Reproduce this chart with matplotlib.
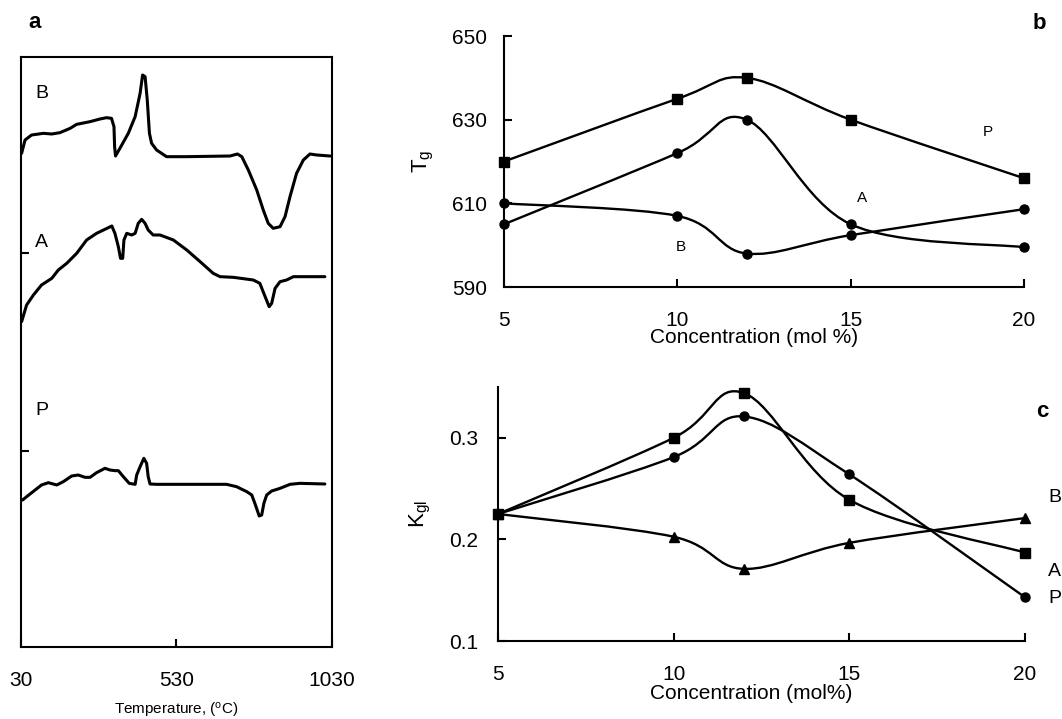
import matplotlib
matplotlib.use("Agg")
import matplotlib.pyplot as plt
from matplotlib.path import Path
from matplotlib.patches import PathPatch
import numpy as np

plt.rcParams['font.family'] = ['Liberation Sans', 'DejaVu Sans']
plt.rcParams['mathtext.default'] = 'regular'

# ---------------- Panel a: DTA traces (temperature in C, signal in a.u.) -------------
temp_B = [32, 43, 64, 102, 129, 155, 188, 209, 252, 284, 305, 321, 329, 331, 334, 348,
          375, 397, 413, 421, 429, 436, 443, 450, 466, 498, 563, 702, 726, 740, 761,
          788, 809, 825, 841, 863, 879, 895, 916, 938, 959, 981, 1024]
sig_B = [148.1, 152.1, 153.6, 154.1, 153.9, 154.3, 155.6, 156.8, 157.6, 158.4, 158.8,
         158.6, 156.1, 150.1, 147.3, 149.6, 154.1, 159.1, 166.1, 171.6, 171.1, 164.1,
         154.1, 151.1, 149.1, 147.1, 147.1, 147.3, 147.9, 147.1, 143.1, 137.1, 131.1,
         127.1, 125.6, 126.1, 129.1, 135.1, 142.1, 146.1, 147.9, 147.6, 147.3]

temp_A = [32, 48, 70, 96, 129, 150, 177, 209, 241, 273, 311, 322, 332, 343, 350, 357,
          361, 370, 386, 397, 407, 418, 429, 439, 455, 477, 520, 563, 606, 648, 670,
          713, 777, 798, 815, 828, 836, 847, 863, 884, 906, 949, 1007]
sig_A = [97.6, 102.6, 105.6, 108.6, 110.6, 113.1, 115.1, 118.1, 122.1, 124.1, 125.8,
         126.3, 124.1, 120.1, 116.6, 116.6, 122.1, 124.1, 123.6, 124.1, 127.1, 128.3,
         127.1, 125.1, 123.6, 123.6, 122.1, 119.1, 115.6, 112.1, 111.1, 110.9, 110.1,
         109.1, 105.1, 102.1, 103.1, 107.6, 109.6, 110.1, 111.1, 111.1, 111.1]

temp_P = [35, 59, 96, 118, 145, 166, 193, 214, 236, 252, 273, 300, 316, 332, 343, 359,
          378, 397, 402, 413, 425, 434, 439, 445, 466, 606, 691, 723, 756, 772, 782,
          796, 804, 811, 820, 836, 863, 895, 927, 1007]
sig_P = [44.1, 45.9, 48.6, 49.3, 48.6, 49.6, 51.3, 51.6, 50.9, 50.9, 52.3, 53.6, 53.1,
         52.9, 52.9, 51.1, 49.1, 48.8, 51.6, 54.1, 56.6, 55.1, 51.1, 48.9, 48.8, 48.8,
         48.8, 48.1, 46.6, 45.6, 43.1, 39.3, 39.6, 43.1, 45.6, 46.8, 47.6, 48.8, 49.1,
         48.9]

temp_ticks = [30, 530, 1030]
a_labels = ['B', 'A', 'P']
a_label_sig = [166.2, 121.5, 71.1]

# ---------------- Panel b: Tg vs concentration ----------------
conc = [5, 10, 12, 15, 20]
tg_P = [620, 635, 640, 630, 616]
tg_A = [605, 622, 630, 605, 599.5]
tg_B = [610, 607, 598, 602.4, 608.6]
tg_ticks = [590, 610, 630, 650]

# ---------------- Panel c: Kgl vs concentration ----------------
kgl_A = [0.225, 0.300, 0.344, 0.239, 0.187]   # squares
kgl_P = [0.225, 0.281, 0.321, 0.264, 0.143]   # circles
kgl_B = [0.225, 0.2026, 0.171, 0.1966, 0.221]  # triangles
kgl_ticks = [0.1, 0.2, 0.3]
conc_ticks = [5, 10, 15, 20]


def smooth_path(ax, x, y, lw):
    """Excel-style smoothed line through the data points (cubic Bezier segments)."""
    x = np.asarray(x, float)
    y = np.asarray(y, float)
    pts = np.column_stack([x, y])
    n = len(pts)
    verts = [pts[0]]
    codes = [Path.MOVETO]
    for i in range(n - 1):
        p0 = pts[i - 1] if i > 0 else pts[i]
        p1 = pts[i]
        p2 = pts[i + 1]
        p3 = pts[i + 2] if i + 2 < n else pts[i + 1]
        c1 = p1 + (p2 - p0) / 6.0
        c2 = p2 - (p3 - p1) / 6.0
        verts += [c1, c2, p2]
        codes += [Path.CURVE4] * 3
    patch = PathPatch(Path(verts, codes), facecolor='none', edgecolor='black',
                      lw=lw, transform=ax.transData, capstyle='round', joinstyle='round')
    ax.add_patch(patch)


fig = plt.figure(figsize=(10.62, 7.19), dpi=100)

# ---- Panel a ----
ax_a = fig.add_axes([0.01977, 0.10014, 0.29284, 0.82058])
for t, s in [(temp_B, sig_B), (temp_A, sig_A), (temp_P, sig_P)]:
    ax_a.plot(t, s, color='black', lw=2.2, solid_joinstyle='round', solid_capstyle='round')
ax_a.set_xlim(30, 1030)
ax_a.set_ylim(0, 177)
ax_a.set_xticks(temp_ticks)
ax_a.set_xticklabels([str(v) for v in temp_ticks], fontsize=15)
ax_a.set_yticks([58.8, 118.2])
ax_a.set_yticklabels([])
ax_a.tick_params(direction='in', length=6, width=1.5)
ax_a.tick_params(axis='x', pad=17)
for lab, s in zip(a_labels, a_label_sig):
    ax_a.text(97, s, lab, fontsize=14, ha='center', va='center')
for sp in ax_a.spines.values():
    sp.set_linewidth(1.5)
ax_a.set_xlabel(r'Temperature, ($^{o}$C)', fontsize=11, labelpad=8)

# ---- Panel b ----
ax_b = fig.add_axes([0.47458, 0.60083, 0.48964, 0.34910])
smooth_path(ax_b, conc, tg_P, 1.7)
smooth_path(ax_b, conc, tg_A, 1.7)
smooth_path(ax_b, conc, tg_B, 1.7)
ax_b.plot(conc, tg_P, ls='none', marker='s', ms=6.5, color='black', clip_on=False)
ax_b.plot(conc, tg_A, ls='none', marker='o', ms=6.5, color='black', clip_on=False)
ax_b.plot(conc, tg_B, ls='none', marker='o', ms=6.5, color='black', clip_on=False)
ax_b.set_xlim(5, 20)
ax_b.set_ylim(590, 650)
ax_b.set_xticks(conc_ticks)
ax_b.set_yticks(tg_ticks)
ax_b.tick_params(direction='in', length=6, width=1.5, labelsize=15)
ax_b.tick_params(axis='x', pad=17)
ax_b.tick_params(axis='y', pad=12)
ax_b.spines['top'].set_visible(False)
ax_b.spines['right'].set_visible(False)
for sp in ('left', 'bottom'):
    ax_b.spines[sp].set_linewidth(1.5)
ax_b.set_ylabel(r'$T_g$', fontsize=16, labelpad=12)
ax_b.set_xlabel('Concentration (mol %)', fontsize=15)
ax_b.xaxis.set_label_coords(0.48, -0.165)
ax_b.text(18.96, 627.1, 'P', fontsize=11, ha='center', va='center')
ax_b.text(15.33, 611.3, 'A', fontsize=11, ha='center', va='center')
ax_b.text(10.09, 599.6, 'B', fontsize=11, ha='center', va='center')

# ---- Panel c ----
ax_c = fig.add_axes([0.46893, 0.10848, 0.49623, 0.35327])
smooth_path(ax_c, conc, kgl_A, 1.7)
smooth_path(ax_c, conc, kgl_P, 1.7)
smooth_path(ax_c, conc, kgl_B, 1.7)
ax_c.plot(conc, kgl_A, ls='none', marker='s', ms=6.5, color='black', clip_on=False)
ax_c.plot(conc, kgl_P, ls='none', marker='o', ms=6.5, color='black', clip_on=False)
ax_c.plot(conc, kgl_B, ls='none', marker='^', ms=7.5, color='black', clip_on=False)
ax_c.set_xlim(5, 20)
ax_c.set_ylim(0.1, 0.35)
ax_c.set_xticks(conc_ticks)
ax_c.set_yticks(kgl_ticks)
ax_c.tick_params(direction='in', length=6, width=1.5, labelsize=15)
ax_c.tick_params(axis='x', pad=17)
ax_c.tick_params(axis='y', pad=14)
ax_c.spines['top'].set_visible(False)
ax_c.spines['right'].set_visible(False)
for sp in ('left', 'bottom'):
    ax_c.spines[sp].set_linewidth(1.5)
ax_c.set_ylabel(r'$K_{gl}$', fontsize=16, labelpad=12)
ax_c.set_xlabel('Concentration (mol%)', fontsize=15)
ax_c.xaxis.set_label_coords(0.48, -0.17)
ax_c.text(20.85, 0.241, 'B', fontsize=14, ha='center', va='center', clip_on=False)
ax_c.text(20.85, 0.168, 'A', fontsize=14, ha='center', va='center', clip_on=False)
ax_c.text(20.85, 0.142, 'P', fontsize=14, ha='center', va='center', clip_on=False)

# panel letters
fig.text(0.033, 0.969, 'a', fontsize=16, fontweight='bold', ha='center', va='center')
fig.text(0.979, 0.968, 'b', fontsize=16, fontweight='bold', ha='center', va='center')
fig.text(0.981, 0.427, 'c', fontsize=16, fontweight='bold', ha='center', va='center')

fig.savefig('out.png', dpi=100)
